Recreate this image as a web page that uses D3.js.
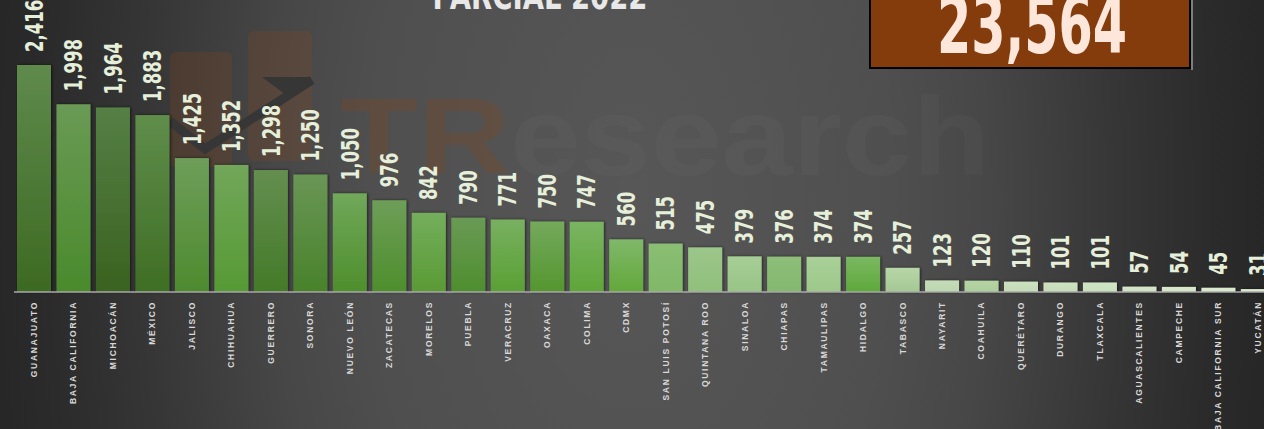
<!DOCTYPE html>
<html><head><meta charset="utf-8">
<script src="https://cdn.jsdelivr.net/npm/d3@7"></script>
<style>html,body{margin:0;padding:0;background:#2a2a2a;overflow:hidden}</style>
</head><body>
<svg id="chart" width="1264" height="429"></svg>
<script>
const categories = ["GUANAJUATO","BAJA CALIFORNIA","MICHOACÁN","MÉXICO","JALISCO","CHIHUAHUA","GUERRERO","SONORA","NUEVO LEÓN","ZACATECAS","MORELOS","PUEBLA","VERACRUZ","OAXACA","COLIMA","CDMX","SAN LUIS POTOSÍ","QUINTANA ROO","SINALOA","CHIAPAS","TAMAULIPAS","HIDALGO","TABASCO","NAYARIT","COAHUILA","QUERÉTARO","DURANGO","TLAXCALA","AGUASCALIENTES","CAMPECHE","BAJA CALIFORNIA SUR","YUCATÁN"];
const values = [2416,1998,1964,1883,1425,1352,1298,1250,1050,976,842,790,771,750,747,560,515,475,379,376,374,374,257,123,120,110,101,101,57,54,45,31];
const titleText = "PARCIAL 2022";
const totalText = "23,564";
const barTop = ["#5e8a4c","#6a9a55","#557f45","#5f8d4b","#6e9e5a","#72a65a","#648e50","#6a9656","#70a85a","#6e9e58","#74ae5c","#6a9a55","#78b060","#74a95c","#7ab462","#80b86a","#8abe74","#9cc68a","#a6ce96","#8ebe7a","#a8d098","#7ab862","#b8d6a8","#c4dcb8","#b4d4a4","#cce0c0","#cce2c0","#cfe4c4","#d4e6c8","#d8e8cc","#dcebd0","#dcebd0"];
const barBot = ["#3d6a22","#4a8a2c","#3a6220","#3f6e24","#4e8a2e","#569a34","#447a28","#48822a","#4e8e2c","#4e8e2c","#5a9a34","#4e8e2e","#5aa034","#54962f","#5ea538","#62a83a","#80b868","#90c07c","#98c486","#84b86e","#9ec88a","#5ea83a","#a4c894","#bcd6ae","#acce9a","#c4dcb6","#c6dcb8","#c8e0bc","#cee2c2","#d2e4c6","#d6e8ca","#d6e8ca"];

const W = 1264, H = 429;
const svg = d3.select("#chart");
const defs = svg.append("defs");

// background
const bg = defs.append("radialGradient").attr("id","bg")
  .attr("gradientUnits","userSpaceOnUse").attr("cx",630).attr("cy",200).attr("r",650)
  .attr("gradientTransform","translate(630,200) scale(1,1.8) translate(-630,-200)");
[[0,"#575757"],[0.4,"#4f4f4f"],[0.55,"#474747"],[0.75,"#363636"],[0.9,"#2b2b2b"],[1,"#262626"]]
  .forEach(([o,c])=>bg.append("stop").attr("offset",o).attr("stop-color",c));
svg.append("rect").attr("width",W).attr("height",H).attr("fill","url(#bg)");

// watermark
const wm = svg.append("g");
wm.append("rect").attr("x",170).attr("y",52).attr("width",62).attr("height",115).attr("rx",6)
  .attr("fill","#8b4513").attr("opacity",0.22);
wm.append("rect").attr("x",248).attr("y",31).attr("width",64).attr("height",130).attr("rx",6)
  .attr("fill","#8b4513").attr("opacity",0.22);
wm.append("path").attr("d","M170,121 L205,149 L312,80")
  .attr("fill","none").attr("stroke","#363636").attr("stroke-width",9);
wm.append("path").attr("d","M262,77 L311,77 L290,98 Z").attr("fill","#363636");
wm.append("text").attr("x",340).attr("y",173).text("TR")
  .attr("font-family","Liberation Sans, Arial, sans-serif").attr("font-weight","bold")
  .attr("font-size",108).attr("textLength",170).attr("lengthAdjust","spacingAndGlyphs")
  .attr("fill","#8b4513").attr("opacity",0.25);
wm.append("text").attr("x",510).attr("y",175).text("esearch")
  .attr("font-family","Liberation Sans, Arial, sans-serif").attr("font-weight","bold")
  .attr("font-size",112).attr("textLength",480).attr("lengthAdjust","spacingAndGlyphs")
  .attr("fill","#ffffff").attr("opacity",0.02);

// scales
const x = d3.scaleBand().domain(categories).range([-2.74, 1294.6]).paddingInner(0.139).paddingOuter(0.5);
const y = d3.scaleLinear().domain([0, d3.max(values)]).range([292, 65]);

// shadow filter
const f = defs.append("filter").attr("id","sh").attr("x","-30%").attr("y","-10%").attr("width","160%").attr("height","120%");
f.append("feDropShadow").attr("dx",1).attr("dy",0).attr("stdDeviation",1.6).attr("flood-color","#000").attr("flood-opacity",0.6);

categories.forEach((c,i)=>{
  const g = defs.append("linearGradient").attr("id","g"+i).attr("x1",0).attr("y1",0).attr("x2",0).attr("y2",1);
  g.append("stop").attr("offset",0).attr("stop-color",barTop[i]);
  g.append("stop").attr("offset",1).attr("stop-color",barBot[i]);
});

const data = categories.map((c,i)=>({c, v: values[i], i}));

svg.append("g").attr("filter","url(#sh)").selectAll("rect").data(data).join("rect")
  .attr("x", d=>x(d.c)).attr("width", x.bandwidth())
  .attr("y", d=>y(d.v)).attr("height", d=>y(0)-y(d.v))
  .attr("fill", d=>"url(#g"+d.i+")");

// axis line
const axis = svg.append("g").attr("transform","translate(0,292)")
  .call(d3.axisBottom(x).tickSize(0).tickFormat(""));
axis.select(".domain").attr("d","M14,0H1264").attr("stroke","#a8a8a8").attr("stroke-width",1.5);

// category labels
svg.append("g").selectAll("text").data(data).join("text")
  .attr("transform", d=>`translate(${x(d.c)+x.bandwidth()/2},301) rotate(-90)`)
  .attr("dy","0.35em").attr("text-anchor","end")
  .attr("font-family","Liberation Sans, Arial, sans-serif").attr("font-weight","bold")
  .attr("font-size",8.5).attr("letter-spacing",1.7).attr("fill","#d8d8d8")
  .text(d=>d.c);

// value labels
const fmt = d3.format(",");
svg.append("g").selectAll("text").data(data).join("text")
  .attr("transform", d=>`translate(${x(d.c)+x.bandwidth()/2},${y(d.v)-13}) rotate(-90) scale(0.8,1.05)`)
  .attr("dy","0.36em").attr("text-anchor","start")
  .attr("font-family","DejaVu Sans Condensed, DejaVu Sans, sans-serif").attr("font-weight","bold")
  .attr("font-size",23).attr("fill","#e6efda")
  .text(d=>fmt(d.v));

// title
svg.append("text").attr("x",540).attr("y",9).attr("text-anchor","middle")
  .attr("font-family","DejaVu Sans Condensed, DejaVu Sans, sans-serif").attr("font-weight","bold")
  .attr("font-size",38).attr("textLength",215).attr("lengthAdjust","spacingAndGlyphs")
  .attr("fill","#e8e8e8").text(titleText);

// total box
svg.append("rect").attr("x",870).attr("y",-3).attr("width",320).attr("height",71)
  .attr("fill","#843c0c").attr("stroke","#000").attr("stroke-width",2);
svg.append("line").attr("x1",1192).attr("x2",1192).attr("y1",0).attr("y2",70).attr("stroke","#cfcfcf").attr("stroke-width",1);
svg.append("text").attr("x",1032).attr("y",53).attr("text-anchor","middle")
  .attr("font-family","DejaVu Sans Condensed, DejaVu Sans, sans-serif").attr("font-weight","bold")
  .attr("font-size",80).attr("textLength",190).attr("lengthAdjust","spacingAndGlyphs")
  .attr("fill","#fde7da").text(totalText);
</script>
</body></html>
